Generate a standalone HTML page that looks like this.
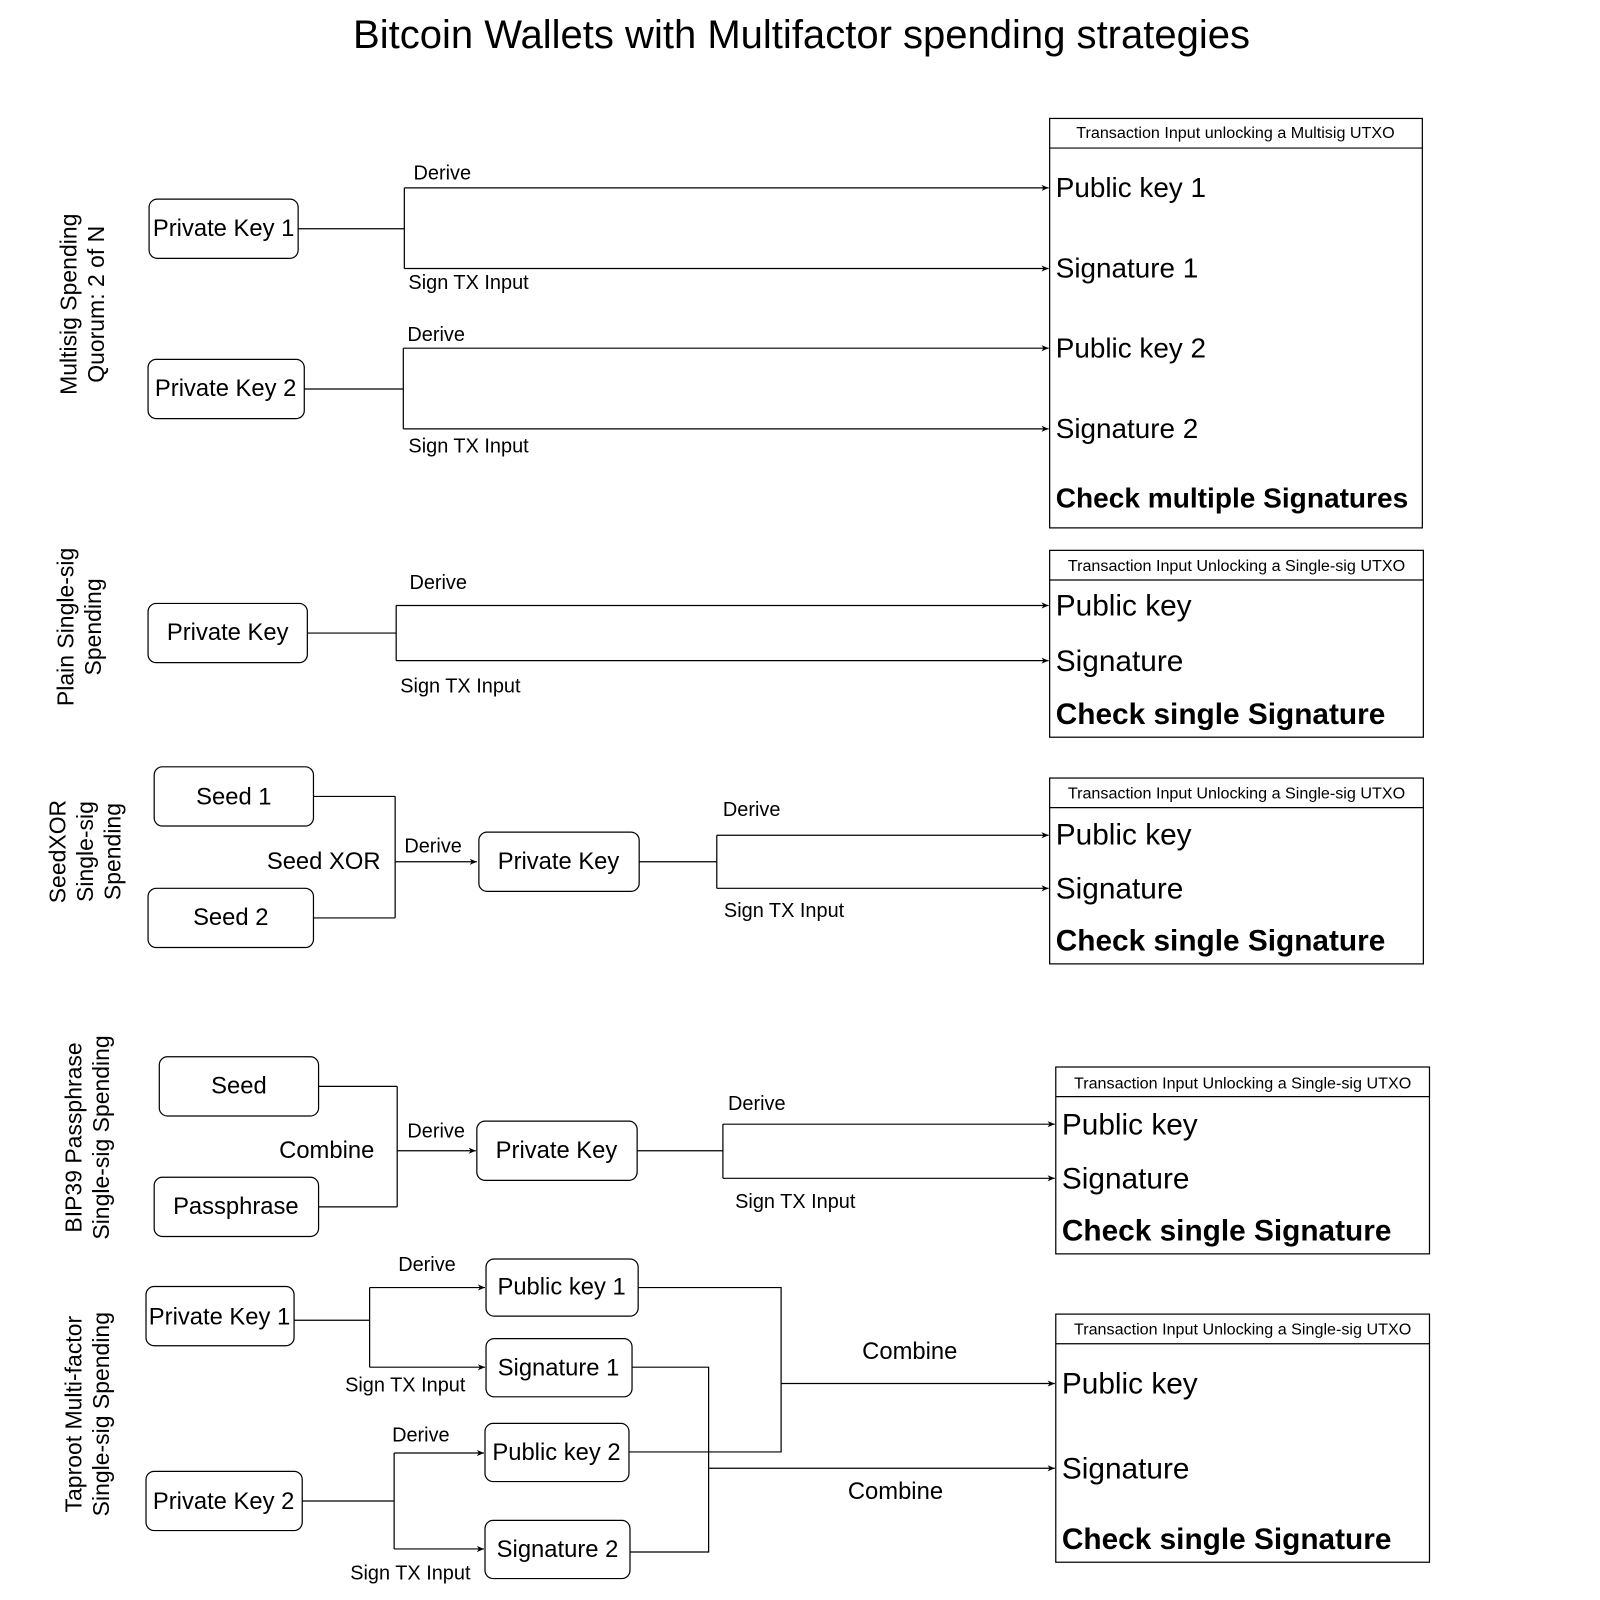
<!DOCTYPE html>
<html><head><meta charset="utf-8"><style>
html,body{margin:0;padding:0;background:#fff;}
svg{display:block;}
text{font-family:"Liberation Sans",sans-serif;fill:#000;}
.n{font-size:23.3px;text-anchor:middle;}
.e{font-size:19.5px;}
.b{font-size:27.3px;}
.bb{font-size:27.5px;font-weight:bold;}
.s{font-size:29.2px;}
.sb{font-size:29.2px;font-weight:bold;}
.h{font-size:15.8px;text-anchor:middle;}
.r{font-size:22.5px;text-anchor:middle;}
</style></head><body>
<svg width="1600" height="1600" viewBox="0 0 1567 1567" xmlns="http://www.w3.org/2000/svg">
<defs><marker id="a" markerWidth="8" markerHeight="8" refX="7" refY="4" orient="auto" markerUnits="userSpaceOnUse"><path d="M0,1 L7,4 L0,7 L2,4 Z" fill="#000"/></marker></defs>
<text x="785" y="47" style="font-size:39.2px;text-anchor:middle">Bitcoin Wallets with Multifactor spending strategies</text>
<g fill="none" stroke="#000" stroke-width="1.2">
<rect x="146" y="195" width="146" height="58" rx="8"/>
<rect x="145" y="352" width="153" height="58" rx="8"/>
<path d="M292,224H396M396,184V263"/>
<path d="M396,184H1027" marker-end="url(#a)"/><path d="M396,263H1027" marker-end="url(#a)"/>
<path d="M298,381H395M395,341V420"/>
<path d="M395,341H1027" marker-end="url(#a)"/><path d="M395,420H1027" marker-end="url(#a)"/>
<rect x="1028" y="116" width="365" height="401"/><path d="M1028,145H1393"/>
<rect x="145" y="591" width="156" height="58" rx="8"/>
<path d="M301,620H388M388,593V647"/>
<path d="M388,593H1027" marker-end="url(#a)"/><path d="M388,647H1027" marker-end="url(#a)"/>
<rect x="1028" y="539" width="366" height="183"/><path d="M1028,568H1394"/>
<rect x="151" y="751" width="156" height="58" rx="8"/>
<rect x="145" y="870" width="162" height="58" rx="8"/>
<path d="M307,780H387M307,899H387M387,780V899"/>
<path d="M387,844H467" marker-end="url(#a)"/>
<rect x="469" y="815" width="157" height="58" rx="8"/>
<path d="M626,844H702M702,818V870"/>
<path d="M702,818H1027" marker-end="url(#a)"/><path d="M702,870H1027" marker-end="url(#a)"/>
<rect x="1028" y="762" width="366" height="182"/><path d="M1028,791H1394"/>
<rect x="156" y="1035" width="156" height="58" rx="8"/>
<rect x="151" y="1153" width="161" height="58" rx="8"/>
<path d="M312,1064H389M312,1182H389M389,1064V1182"/>
<path d="M389,1127H466" marker-end="url(#a)"/>
<rect x="467" y="1098" width="157" height="58" rx="8"/>
<path d="M624,1127H708M708,1101V1154"/>
<path d="M708,1101H1033" marker-end="url(#a)"/><path d="M708,1154H1033" marker-end="url(#a)"/>
<rect x="1034" y="1045" width="366" height="183"/><path d="M1034,1074H1400"/>
<rect x="143" y="1260" width="145" height="58" rx="8"/>
<rect x="143" y="1441" width="153" height="58" rx="8"/>
<rect x="476" y="1233" width="149" height="56" rx="8"/>
<rect x="476" y="1311" width="143" height="57" rx="8"/>
<rect x="475" y="1394" width="141" height="57" rx="8"/>
<rect x="475" y="1489" width="142" height="57" rx="8"/>
<path d="M288,1293H362M362,1261V1339"/>
<path d="M362,1261H475" marker-end="url(#a)"/><path d="M362,1339H475" marker-end="url(#a)"/>
<path d="M296,1470H386M386,1423V1517"/>
<path d="M386,1423H474" marker-end="url(#a)"/><path d="M386,1517H474" marker-end="url(#a)"/>
<path d="M625,1261H765V1422H616"/>
<path d="M765,1355H1033" marker-end="url(#a)"/>
<path d="M619,1339H694V1520H617"/>
<path d="M694,1438H1033" marker-end="url(#a)"/>
<rect x="1034" y="1287" width="366" height="243"/><path d="M1034,1316H1400"/>
</g>
<text class="r" transform="translate(75,298) rotate(-90)"><tspan x="0" y="0">Multisig Spending</tspan><tspan x="0" y="27">Quorum: 2 of N</tspan></text>
<text class="r" transform="translate(72,614) rotate(-90)"><tspan x="0" y="0">Plain Single-sig</tspan><tspan x="0" y="27">Spending</tspan></text>
<text class="r" transform="translate(64,834) rotate(-90)"><tspan x="0" y="0">SeedXOR</tspan><tspan x="0" y="27">Single-sig</tspan><tspan x="0" y="54">Spending</tspan></text>
<text class="r" transform="translate(80,1114) rotate(-90)"><tspan x="0" y="0">BIP39 Passphrase</tspan><tspan x="0" y="27">Single-sig Spending</tspan></text>
<text class="r" transform="translate(80,1385) rotate(-90)"><tspan x="0" y="0">Taproot Multi-factor</tspan><tspan x="0" y="27">Single-sig Spending</tspan></text>
<text class="n" x="219" y="231">Private Key 1</text>
<text class="n" x="221" y="388">Private Key 2</text>
<text class="n" x="223" y="627">Private Key</text>
<text class="n" x="229" y="788">Seed 1</text>
<text class="n" x="226" y="906">Seed 2</text>
<text class="n" x="547" y="851">Private Key</text>
<text class="n" x="234" y="1071">Seed</text>
<text class="n" x="231" y="1189">Passphrase</text>
<text class="n" x="545" y="1134">Private Key</text>
<text class="n" x="215" y="1297">Private Key 1</text>
<text class="n" x="219" y="1478">Private Key 2</text>
<text class="n" x="550" y="1268">Public key 1</text>
<text class="n" x="547" y="1347">Signature 1</text>
<text class="n" x="545" y="1430">Public key 2</text>
<text class="n" x="546" y="1525">Signature 2</text>
<text class="n" x="317" y="851">Seed XOR</text>
<text class="n" x="320" y="1134">Combine</text>
<text class="n" x="891" y="1331">Combine</text>
<text class="n" x="877" y="1468">Combine</text>
<text class="e" x="405" y="176">Derive</text><text class="e" x="400" y="283">Sign TX Input</text>
<text class="e" x="399" y="334">Derive</text><text class="e" x="400" y="443">Sign TX Input</text>
<text class="e" x="401" y="577">Derive</text><text class="e" x="392" y="678">Sign TX Input</text>
<text class="e" x="396" y="835">Derive</text>
<text class="e" x="708" y="799">Derive</text><text class="e" x="709" y="898">Sign TX Input</text>
<text class="e" x="399" y="1114">Derive</text>
<text class="e" x="713" y="1087">Derive</text><text class="e" x="720" y="1183">Sign TX Input</text>
<text class="e" x="390" y="1245">Derive</text><text class="e" x="338" y="1363">Sign TX Input</text>
<text class="e" x="384" y="1412">Derive</text><text class="e" x="343" y="1547">Sign TX Input</text>
<text class="h" x="1210" y="135">Transaction Input unlocking a Multisig UTXO</text>
<text class="b" x="1034" y="193">Public key 1</text>
<text class="b" x="1034" y="272">Signature 1</text>
<text class="b" x="1034" y="350">Public key 2</text>
<text class="b" x="1034" y="429">Signature 2</text>
<text class="bb" x="1034" y="497">Check multiple Signatures</text>
<text class="h" x="1211" y="559">Transaction Input Unlocking a Single-sig UTXO</text>
<text class="s" x="1034" y="603">Public key</text>
<text class="s" x="1034" y="657">Signature</text>
<text class="sb" x="1034" y="709">Check single Signature</text>
<text class="h" x="1211" y="782">Transaction Input Unlocking a Single-sig UTXO</text>
<text class="s" x="1034" y="827">Public key</text>
<text class="s" x="1034" y="880">Signature</text>
<text class="sb" x="1034" y="931">Check single Signature</text>
<text class="h" x="1217" y="1066">Transaction Input Unlocking a Single-sig UTXO</text>
<text class="s" x="1040" y="1111">Public key</text>
<text class="s" x="1040" y="1164">Signature</text>
<text class="sb" x="1040" y="1215">Check single Signature</text>
<text class="h" x="1217" y="1307">Transaction Input Unlocking a Single-sig UTXO</text>
<text class="s" x="1040" y="1365">Public key</text>
<text class="s" x="1040" y="1448">Signature</text>
<text class="sb" x="1040" y="1517">Check single Signature</text>
</svg>
</body></html>
